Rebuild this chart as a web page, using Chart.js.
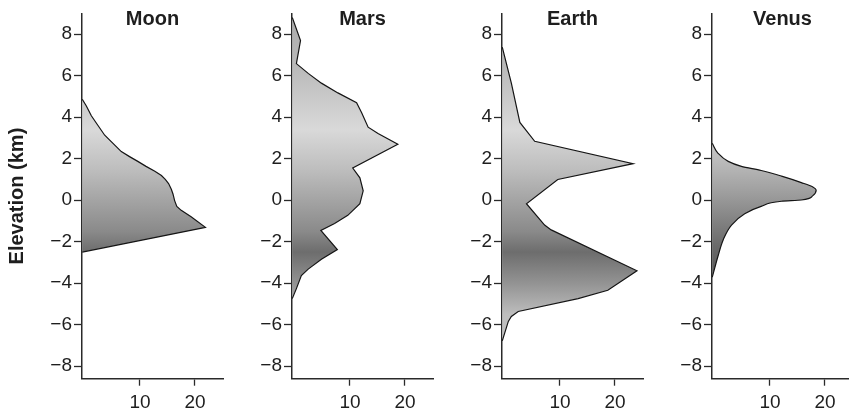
<!DOCTYPE html>
<html><head><meta charset="utf-8">
<script src="https://cdn.jsdelivr.net/npm/chart.js@4.4.0/dist/chart.umd.min.js"></script>
<style>
html,body{margin:0;padding:0;background:#fff;}
#wrap{position:relative;width:849px;height:416px;overflow:hidden;background:#fff;}
canvas{position:absolute;top:0;}
</style></head><body>
<div id="wrap">
<canvas id="c0" width="232" height="416" style="left:0px"></canvas>
<canvas id="c1" width="232" height="416" style="left:210px"></canvas>
<canvas id="c2" width="232" height="416" style="left:420px"></canvas>
<canvas id="c3" width="232" height="416" style="left:630px"></canvas>
</div>
<script>
// ---- data ----
const panelNames = ['Moon', 'Mars', 'Earth', 'Venus'];

// elevation (km) along the outline, top to bottom, and the matching area percentage
const moonElevation = [4.86, 4.54, 4.07, 3.60, 3.13, 2.74, 2.34, 2.10, 1.87, 1.63, 1.40, 1.19, 1.0, 0.80, 0.53, 0.30, -0.02, -0.30, -0.49, -0.80, -1.31, -2.5];
const moonPercent   = [-0.5, 0.24, 1.15, 2.36, 3.58, 5.09, 6.6, 8.1, 9.6, 11.1, 12.7, 13.9, 14.6, 15.2, 15.7, 16.0, 16.3, 16.7, 17.5, 19.3, 21.9, -0.5];

const marsElevation = [8.8, 7.69, 6.58, 6.11, 5.64, 5.17, 4.70, 4.23, 3.52, 3.21, 2.70, 1.55, 1.08, 0.45, -0.17, -0.73, -1.12, -1.46, -2.38, -2.85, -3.32, -3.63, -4.26, -4.74];
const marsPercent   = [-0.5, 1.0, 0.25, 2.4, 4.8, 7.8, 11.2, 12.1, 13.3, 15.1, 18.7, 10.5, 11.8, 12.4, 11.8, 9.6, 7.2, 4.7, 7.7, 4.8, 2.4, 1.15, 0.25, -0.5];

const earthElevation = [7.37, 5.64, 3.75, 2.84, 1.76, 1.0, -0.17, -1.2, -1.43, -3.40, -4.34, -4.74, -5.36, -5.6, -5.84, -6.78];
const earthPercent   = [-0.5, 1.15, 2.7, 5.4, 23.3, 9.6, 3.9, 7.2, 8.4, 24.0, 18.7, 13.3, 2.4, 1.15, 0.6, -0.5];

const venusElevation = [2.74, 2.26, 1.87, 1.63, 1.43, 1.16, 0.85, 0.64, 0.49, 0.22, 0.01, -0.05, -0.30, -0.65, -1.2, -1.9, -2.69, -3.71];
const venusPercent   = [-0.5, 0.55, 2.4, 4.8, 8.4, 12.1, 15.7, 17.8, 18.4, 17.8, 15.7, 12.1, 8.4, 5.4, 3.0, 1.5, 0.55, -0.5];

const yTickValues = [-8, -6, -4, -2, 0, 2, 4, 6, 8];
const yTickLabels = ['\u22128', '\u22126', '\u22124', '\u22122', '0', '2', '4', '6', '8'];
const xTickValues = [10, 20];
const xTickLabels = ['10', '20'];
const yAxisTitle = 'Elevation (km)';

// ---- style ----
const FONT = '"Liberation Sans", Arial, Helvetica, sans-serif';
const TEXT = '#1e1e1e';
const AXIS = '#2a2a2a';
const X_MIN = -0.55, X_MAX = 25.1, Y_MIN = -8.6, Y_MAX = 9;
const gradElev  = [9, 6.5, 3.4, 1.5, 0, -1.5, -2.5, -4, -5.5, -8.6];
const gradColor = ['#aaaaaa', '#b9b9b9', '#d9d9d9', '#bebebe', '#a4a4a4', '#8a8a8a', '#6d6d6d', '#939393', '#bdbdbd', '#cccccc'];
const venusGradElev  = [2.8, 1.5, 0.3, -1, -2.2, -3.8];
const venusGradColor = ['#cacaca', '#b4b4b4', '#9d9d9d', '#828282', '#6a6a6a', '#555555'];

const panels = [
  {name: panelNames[0], elev: moonElevation, pct: moonPercent, mode: 'default', ge: gradElev, gc: gradColor},
  {name: panelNames[1], elev: marsElevation, pct: marsPercent, mode: 'default', ge: gradElev, gc: gradColor},
  {name: panelNames[2], elev: earthElevation, pct: earthPercent, mode: 'default', ge: gradElev, gc: gradColor},
  {name: panelNames[3], elev: venusElevation, pct: venusPercent, mode: 'monotone', ge: venusGradElev, gc: venusGradColor}
];

function makeGradient(ge, gc) {
  return function (c) {
    const chart = c.chart;
    const ys = chart.scales.y;
    if (!chart.chartArea || !ys) return '#aaaaaa';
    const y0 = ys.getPixelForValue(Y_MAX), y1 = ys.getPixelForValue(Y_MIN);
    const g = chart.ctx.createLinearGradient(0, y0, 0, y1);
    ge.forEach((e, i) => {
      const p = (ys.getPixelForValue(e) - y0) / (y1 - y0);
      g.addColorStop(Math.min(1, Math.max(0, p)), gc[i]);
    });
    return g;
  };
}

const titlePlugin = {
  id: 'panelTitle',
  afterDraw(chart, args, opts) {
    const {ctx, chartArea} = chart;
    ctx.save();
    ctx.font = 'bold 20px ' + FONT;
    ctx.fillStyle = TEXT;
    ctx.textAlign = 'center';
    ctx.textBaseline = 'alphabetic';
    ctx.fillText(opts.text, (chartArea.left + chartArea.right) / 2, 25);
    ctx.restore();
  }
};

panels.forEach((p, i) => {
  const pts = p.elev.map((e, k) => ({x: p.pct[k], y: e}));
  new Chart(document.getElementById('c' + i), {
    type: 'line',
    data: {
      datasets: [{
        data: pts,
        borderColor: '#151515',
        borderWidth: 1.2,
        backgroundColor: makeGradient(p.ge, p.gc),
        fill: 'shape',
        tension: p.mode === 'monotone' ? 0.4 : 0,
        cubicInterpolationMode: p.mode,
        pointRadius: 0
      }]
    },
    plugins: [titlePlugin],
    options: {
      indexAxis: 'y',
      responsive: false,
      animation: false,
      devicePixelRatio: 1,
      layout: {padding: {top: 6, left: 0, right: 9, bottom: 0}},
      plugins: {
        legend: {display: false},
        tooltip: {enabled: false},
        panelTitle: {text: p.name}
      },
      scales: {
        x: {
          type: 'linear', position: 'bottom', min: X_MIN, max: X_MAX,
          afterBuildTicks: s => { s.ticks = xTickValues.map(v => ({value: v})); },
          afterFit: s => { s.height = 37.3; },
          ticks: {
            autoSkip: false, maxRotation: 0, padding: 6, color: TEXT,
            font: {family: FONT, size: 19},
            callback: (v) => xTickLabels[xTickValues.indexOf(v)]
          },
          grid: {drawOnChartArea: false, drawTicks: true, tickLength: 7, tickColor: AXIS, tickWidth: 1.3},
          border: {display: true, color: AXIS, width: 1.5}
        },
        y: {
          type: 'linear', position: 'left', min: Y_MIN, max: Y_MAX,
          afterBuildTicks: s => { s.ticks = yTickValues.map(v => ({value: v})); },
          afterFit: s => { s.width = 82; },
          ticks: {
            autoSkip: false, padding: 2, color: TEXT,
            font: {family: FONT, size: 19},
            callback: (v) => yTickLabels[yTickValues.indexOf(v)]
          },
          title: {
            display: i === 0, text: yAxisTitle, color: TEXT,
            font: {family: FONT, size: 20, weight: 'bold'},
            padding: {top: 5, bottom: 0}
          },
          grid: {drawOnChartArea: false, drawTicks: true, tickLength: 8, tickColor: AXIS, tickWidth: 1.3},
          border: {display: true, color: AXIS, width: 1.5}
        }
      }
    }
  });
});
</script>
</body></html>
